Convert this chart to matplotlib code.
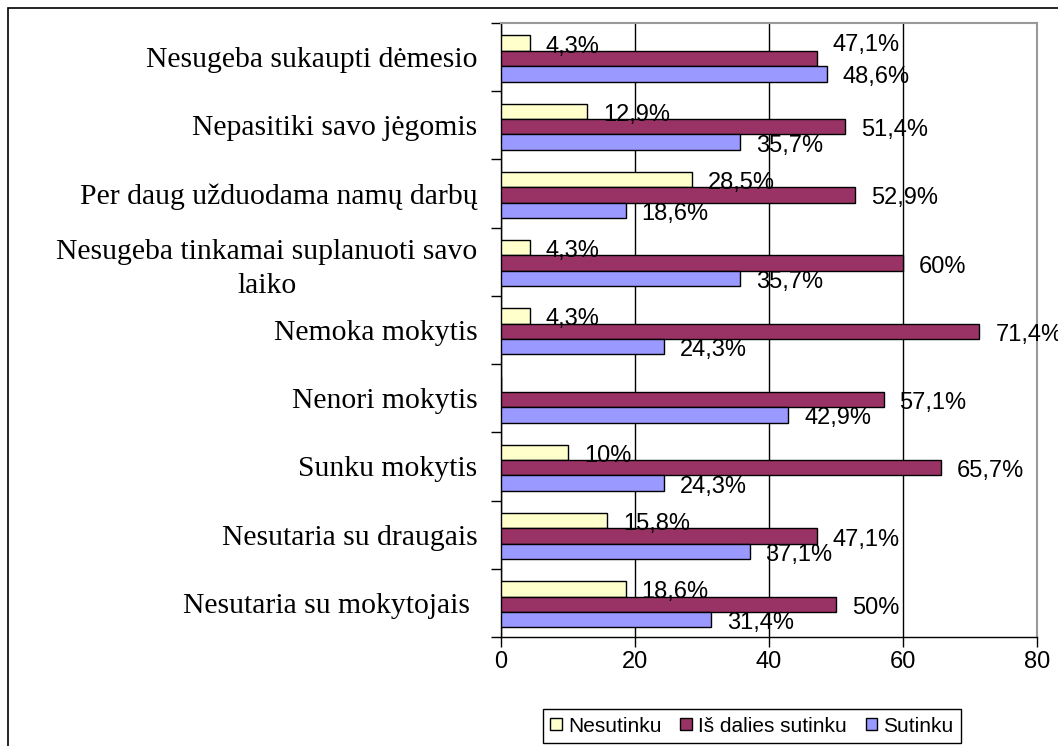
import matplotlib.pyplot as plt
import numpy as np
from matplotlib.patches import Rectangle

kategorijos = [
    "Nesugeba sukaupti dėmesio",
    "Nepasitiki savo jėgomis",
    "Per daug užduodama namų darbų",
    "Nesugeba tinkamai suplanuoti savo\nlaiko",
    "Nemoka mokytis",
    "Nenori mokytis",
    "Sunku mokytis",
    "Nesutaria su draugais",
    "Nesutaria su mokytojais ",
]
nesutinku = [4.3, 12.9, 28.5, 4.3, 4.3, 0, 10, 15.8, 18.6]
is_dalies = [47.1, 51.4, 52.9, 60, 71.4, 57.1, 65.7, 47.1, 50]
sutinku = [48.6, 35.7, 18.6, 35.7, 24.3, 42.9, 24.3, 37.1, 31.4]

serijos = [
    ("Nesutinku", nesutinku, "#FFFFCC"),
    ("Iš dalies sutinku", is_dalies, "#993366"),
    ("Sutinku", sutinku, "#9999FF"),
]

W, H = 1058, 746
fig = plt.figure(figsize=(W / 100, H / 100), dpi=100)
fig.patches.append(Rectangle((8 / W, -0.1), 1.2, 1 - 8 / H + 0.1, transform=fig.transFigure,
                             fill=False, edgecolor="black", linewidth=1.2))

ax = fig.add_axes([501 / W, 1 - 637 / H, (1037 - 501) / W, (637 - 23) / H])

y = np.arange(len(kategorijos))
h = 0.225

def zyme(v):
    s = ("%.1f" % v).replace(".", ",")
    if s.endswith(",0"):
        s = s[:-2]
    return s + "%"

for k, (pav, vals, spalva) in enumerate(serijos):
    pos = y + (k - 1) * h + 0.02
    ax.barh(pos, vals, height=h, color=spalva, edgecolor="black", linewidth=1, label=pav, zorder=3)
    for i, (p, v) in enumerate(zip(pos, vals)):
        if v == 0:
            continue
        dy = -2.5
        # kaip Excel'yje: jei etiketės sutampa, vidurinė pakeliama aukštyn
        if k == 1 and abs(v - sutinku[i]) < 3:
            dy = 10
        ax.annotate(zyme(v), (v, p), xytext=(11.5, dy), textcoords="offset points",
                    va="center", ha="left", fontsize=17, family="Liberation Sans",
                    annotation_clip=False, zorder=5)

ax.set_xlim(0, 80)
ax.set_ylim(len(kategorijos) - 0.5, -0.5)
ax.set_xticks([0, 20, 40, 60, 80])
ax.tick_params(axis="x", direction="out", length=7, width=1, labelsize=17, pad=3)
for t in ax.get_xticklabels():
    t.set_family("Liberation Sans")

ax.set_yticks(np.arange(len(kategorijos) + 1) - 0.5, minor=False)
ax.set_yticklabels([])
ax.set_yticks(y, minor=True)
ax.set_yticklabels(kategorijos, minor=True, fontsize=21.3, family="Liberation Serif",
                   multialignment="center", linespacing=1.4)
ax.tick_params(axis="y", which="major", direction="out", length=7, width=1)
ax.tick_params(axis="y", which="minor", length=0, pad=17)

ax.xaxis.grid(True, color="black", linewidth=1, zorder=0)
ax.set_axisbelow(True)
for s in ["top", "right"]:
    ax.spines[s].set_color("#999999")
    ax.spines[s].set_linewidth(1.5)
for s in ["left", "bottom"]:
    ax.spines[s].set_color("black")
    ax.spines[s].set_linewidth(1)

leg = fig.legend(loc="center", bbox_to_anchor=(752 / W, 1 - 726 / H), ncol=3,
                 fancybox=False, edgecolor="black", framealpha=1,
                 prop={"family": "Liberation Sans", "size": 15},
                 handlelength=0.55, handleheight=0.55, handletextpad=0.3,
                 columnspacing=0.9, borderpad=0.35)
leg.get_frame().set_linewidth(1)

fig.savefig("out.png", dpi=100)
